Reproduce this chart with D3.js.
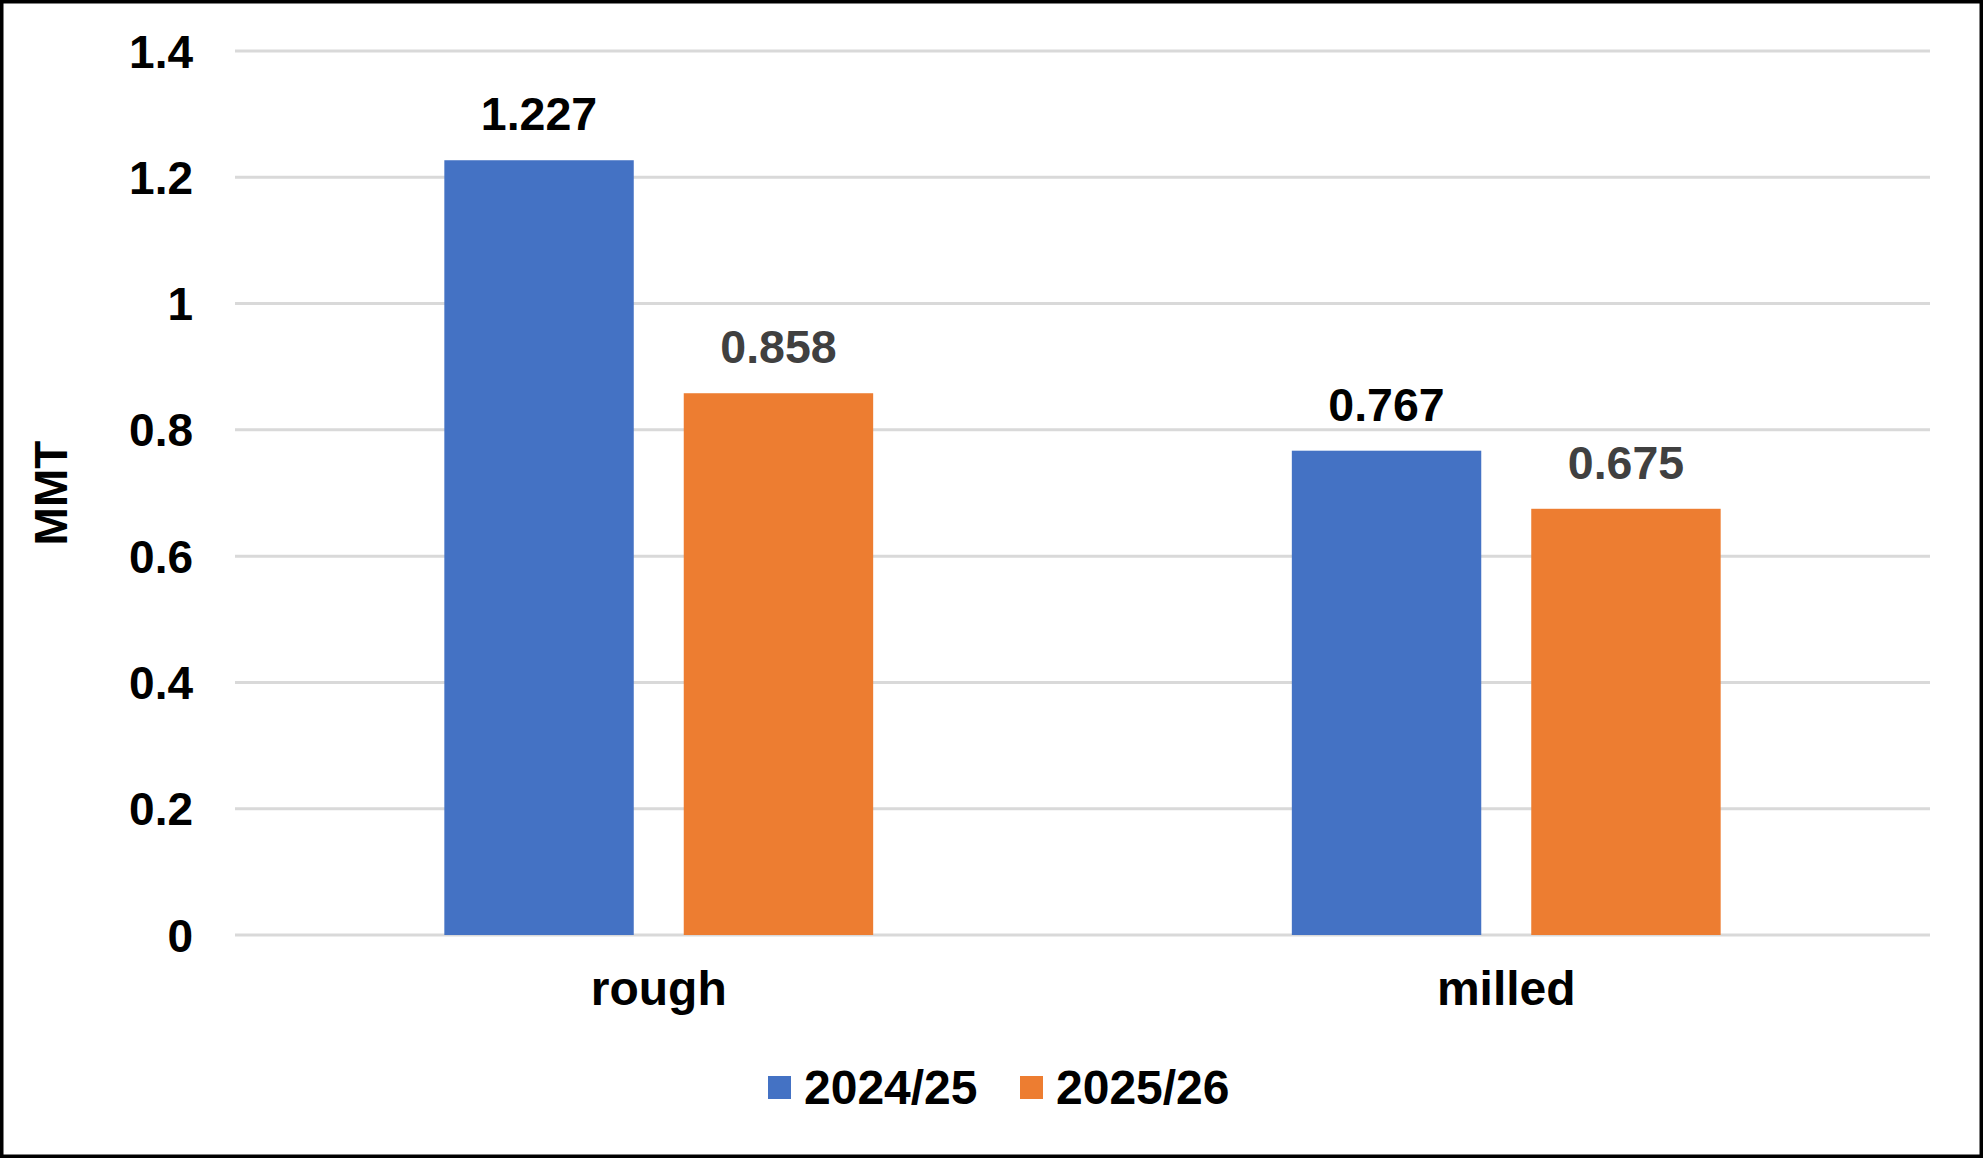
<!DOCTYPE html>
<html>
<head>
<meta charset="utf-8">
<script src="https://cdn.jsdelivr.net/npm/d3@7"></script>
<style>
  body { margin: 0; background: #fff; }
  text { font-family: "Liberation Sans", Arial, sans-serif; font-weight: bold; }
</style>
</head>
<body>
<svg id="chart" width="1983" height="1158"></svg>
<script>
const categories = ["rough", "milled"];
const seriesNames = ["2024/25", "2025/26"];
const values2024 = [1.227, 0.767];
const values2025 = [0.858, 0.675];
const yTicks = [0, 0.2, 0.4, 0.6, 0.8, 1, 1.2, 1.4];
const colors = ["#4472C4", "#ED7D31"];
const labelColors = ["#000000", "#404040"];

const svg = d3.select("#chart"),
      width = +svg.attr("width"),
      height = +svg.attr("height");

const plotLeft = 235, plotRight = 1930, plotTop = 51, plotBottom = 935;

const yScale = d3.scaleLinear().domain([0, 1.4]).range([plotBottom, plotTop]);
const xScale = d3.scaleBand().domain(categories).range([plotLeft, plotRight]).padding(0);

const band = xScale.bandwidth();
const barW = band * 0.2235,
      gap = band * 0.059;

// white background + border
svg.append("rect")
   .attr("x", 1.75).attr("y", 1.75)
   .attr("width", width - 3.5).attr("height", height - 3.5)
   .attr("fill", "#fff")
   .attr("stroke", "#000")
   .attr("stroke-width", 3.5);

// gridlines
svg.append("g")
   .selectAll("line")
   .data(yTicks)
   .join("line")
   .attr("x1", plotLeft).attr("x2", plotRight)
   .attr("y1", d => yScale(d)).attr("y2", d => yScale(d))
   .attr("stroke", "#d9d9d9")
   .attr("stroke-width", 3);

// y tick labels
svg.append("g")
   .selectAll("text")
   .data(yTicks)
   .join("text")
   .attr("x", 193)
   .attr("y", d => yScale(d))
   .attr("dy", "0.36em")
   .attr("text-anchor", "end")
   .attr("font-size", 46)
   .attr("fill", "#000")
   .text(d => String(d));

// axis title
svg.append("text")
   .attr("transform", `translate(67,${(plotTop + plotBottom) / 2}) rotate(-90)`)
   .attr("text-anchor", "middle")
   .attr("font-size", 46)
   .attr("fill", "#000")
   .text("MMT");

const series = [values2024, values2025];

series.forEach((vals, s) => {
    const xPos = (c) => xScale(c) + band / 2 - barW - gap / 2 + s * (barW + gap);
    const g = svg.append("g");

    g.selectAll("rect")
     .data(categories)
     .join("rect")
     .attr("x", c => xPos(c))
     .attr("width", barW)
     .attr("y", (c, i) => yScale(vals[i]))
     .attr("height", (c, i) => yScale(0) - yScale(vals[i]))
     .attr("fill", colors[s]);

    g.selectAll("text")
     .data(categories)
     .join("text")
     .attr("x", c => xPos(c) + barW / 2)
     .attr("y", (c, i) => yScale(vals[i]) - 30)
     .attr("text-anchor", "middle")
     .attr("font-size", 46.5)
     .attr("fill", labelColors[s])
     .text((c, i) => vals[i].toFixed(3));
});

// category labels
svg.append("g")
   .selectAll("text")
   .data(categories)
   .join("text")
   .attr("x", c => xScale(c) + band / 2)
   .attr("y", 1005)
   .attr("text-anchor", "middle")
   .attr("font-size", 48)
   .attr("fill", "#000")
   .text(c => c);

// legend
const legendX = [768, 1020];
const legend = svg.append("g")
   .selectAll("g")
   .data(seriesNames)
   .join("g")
   .attr("transform", (d, i) => `translate(${legendX[i]},1076)`);

legend.append("rect")
   .attr("width", 23).attr("height", 23)
   .attr("fill", (d, i) => colors[i]);

legend.append("text")
   .attr("x", 36)
   .attr("y", 28)
   .attr("font-size", 48)
   .attr("fill", "#000")
   .text(d => d);
</script>
</body>
</html>
